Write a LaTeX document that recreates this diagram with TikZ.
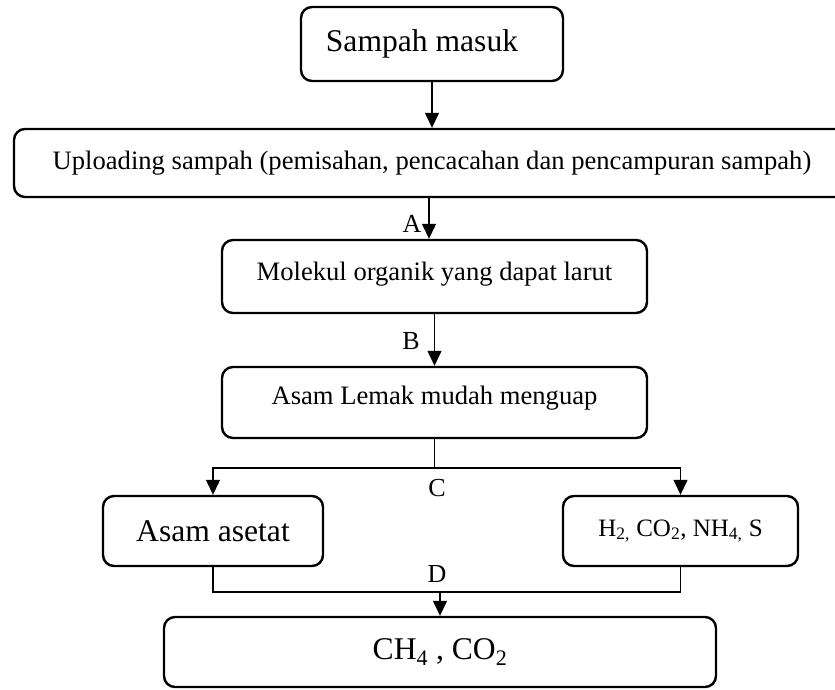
\documentclass[tikz,border=0pt]{standalone}
\usepackage{fontspec}
\setmainfont{Liberation Serif}
\usetikzlibrary{arrows.meta,calc}
\tikzset{
  box/.style={draw, line width=2.4pt, rounded corners=11pt, align=center, inner sep=0pt},
  big/.style={font=\fontsize{31.6}{36}\selectfont},
  mid/.style={font=\fontsize{26.6}{31}\selectfont},
  sml/.style={font=\fontsize{25}{29}\selectfont},
  conn/.style={line width=1.3pt},
  arr/.style={conn, -{Triangle[width=14pt,length=15pt]}},
  lbl/.style={font=\fontsize{26}{30}\selectfont, inner sep=0pt}
}
\begin{document}
\begin{tikzpicture}[x=1pt,y=-1pt]
\useasboundingbox (0,0) rectangle (835,689);
\clip (0,0) rectangle (835,689);
\fill[white] (0,0) rectangle (835,689);
\node[box,big,minimum width=262pt,minimum height=74pt] (sm) at (432,44) {Sampah masuk\hspace{20pt}};
\node[box,mid,minimum width=836pt,minimum height=68pt] (up) at (432,163) {Uploading sampah (pemisahan, pencacahan dan pencampuran sampah)};
\node[box,mid,minimum width=425pt,minimum height=73pt] (mo) at (434.5,276.5) {\raisebox{10pt}{Molekul organik yang dapat larut}};
\node[box,mid,minimum width=425pt,minimum height=71pt] (al) at (434.5,402.5) {\raisebox{14pt}{Asam Lemak mudah menguap}};
\node[box,big,minimum width=220pt,minimum height=70pt] (aa) at (213,531) {Asam asetat};
\node[box,sml,minimum width=235pt,minimum height=70pt] (hh) at (680.5,531) {H\textsubscript{2,} CO\textsubscript{2}, NH\textsubscript{4,} S};
\node[box,big,minimum width=552pt,minimum height=70pt] (ch) at (440,652) {CH\textsubscript{4} , CO\textsubscript{2}};
\coordinate (xa) at (429,0);
\coordinate (split) at (434.5,468);
\coordinate (join) at (440,592);
\draw[arr] (sm.south) -- (up.north);
\draw[arr] (up.south -| xa) -- (mo.north -| xa);
\draw[arr] (mo.south) -- (al.north);
\draw[conn] (al.south) -- (split);
\draw[arr] (split) -| (aa.north);
\draw[arr] (split) -| (hh.north);
\draw[conn] (aa.south) |- (join) -| (hh.south);
\draw[arr] (join) -- (ch.north);
\node[lbl] (la) at (412,224) {A};
\node[lbl] (lb) at (411,341) {B};
\node[lbl] (lc) at (437,488) {C};
\node[lbl] (ld) at (437,574) {D};
\end{tikzpicture}
\end{document}
